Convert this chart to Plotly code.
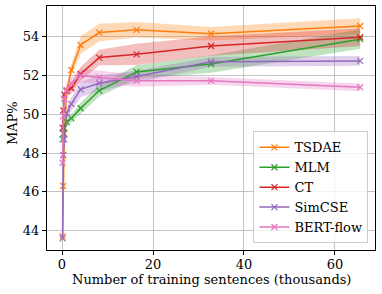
import plotly.graph_objects as go

x_thousands = [0.128, 0.256, 0.512, 1.024, 2.048, 4.096, 8.192, 16.384, 32.768, 65.536]

series_names = ["TSDAE", "MLM", "CT", "SimCSE", "BERT-flow"]
tsdae = [43.7, 46.3, 49.0, 51.2, 52.28, 53.57, 54.21, 54.35, 54.15, 54.55]
mlm = [48.7, 49.0, 49.3, 49.6, 49.79, 50.31, 51.22, 52.18, 52.59, 53.87]
ct = [49.3, 50.2, 51.0, 51.2, 51.34, 52.08, 52.92, 53.09, 53.52, 53.97]
simcse = [43.6, 47.9, 48.7, 50.05, 50.53, 51.28, 51.6, 51.94, 52.70, 52.75]
bertflow = [47.5, 49.9, 50.8, 51.25, 51.6, 52.0, 51.9, 51.72, 51.72, 51.39]

tsdae_std = [0.1, 0.1, 0.2, 0.3, 0.3, 0.45, 0.45, 0.4, 0.35, 0.4]
mlm_std = [0.1, 0.1, 0.15, 0.2, 0.2, 0.3, 0.3, 0.35, 0.45, 0.5]
ct_std = [0.1, 0.15, 0.2, 0.25, 0.3, 0.35, 0.4, 0.55, 0.5, 0.45]
simcse_std = [0.1, 0.15, 0.2, 0.3, 0.35, 0.4, 0.4, 0.3, 0.25, 0.25]
bertflow_std = [0.1, 0.2, 0.25, 0.3, 0.3, 0.35, 0.35, 0.3, 0.2, 0.2]

x_title = "Number of training sentences (thousands)"
y_title = "MAP%"

colors = ["#ff7f0e", "#2ca02c", "#d62728", "#9467bd", "#e377c2"]
fills = ["rgba(255,127,14,0.3)", "rgba(44,160,44,0.3)", "rgba(214,39,40,0.3)",
         "rgba(148,103,189,0.3)", "rgba(227,119,194,0.3)"]

means = [tsdae, mlm, ct, simcse, bertflow]
stds = [tsdae_std, mlm_std, ct_std, simcse_std, bertflow_std]

FONT = "DejaVu Serif"
fig = go.Figure()

for m, s, fc in zip(means, stds, fills):
    upper = [a + b for a, b in zip(m, s)]
    lower = [a - b for a, b in zip(m, s)]
    fig.add_trace(go.Scatter(
        x=x_thousands + x_thousands[::-1], y=upper + lower[::-1],
        fill="toself", fillcolor=fc, line=dict(width=0), mode="lines",
        hoverinfo="skip", showlegend=False))

for name, m, c in zip(series_names, means, colors):
    fig.add_trace(go.Scatter(
        x=x_thousands, y=m, name=name, mode="lines+markers",
        line=dict(color=c, width=1.5),
        marker=dict(symbol="x-thin", size=6, line=dict(color=c, width=1.2))))

fig.update_layout(
    width=382, height=294,
    margin=dict(l=47, r=7, t=6, b=44),
    paper_bgcolor="white", plot_bgcolor="white",
    font=dict(family=FONT, size=13, color="black"),
    legend=dict(x=0.98, y=0.027, xanchor="right", yanchor="bottom",
                bgcolor="rgba(255,255,255,0.8)", bordercolor="#cccccc", borderwidth=1,
                font=dict(family=FONT, size=13), tracegroupgap=0),
    annotations=[
        dict(text=x_title, xref="paper", yref="paper", x=0.5, y=-0.121,
             xanchor="center", yanchor="middle", showarrow=False,
             font=dict(family=FONT, size=13)),
        dict(text=y_title, xref="paper", yref="paper", x=-0.1067, y=0.52,
             xanchor="center", yanchor="middle", showarrow=False, textangle=-90,
             font=dict(family=FONT, size=13)),
    ],
)
fig.update_xaxes(
    range=[-3.3, 68.8], tickvals=[0, 20, 40, 60], showgrid=True, gridcolor="#c4c4c4",
    gridwidth=1, zeroline=False, showline=True, linecolor="black", linewidth=1.2,
    mirror=True, ticks="outside", ticklen=4, tickcolor="black", ticklabelstandoff=-2)
fig.update_yaxes(
    range=[43.0, 55.58], tickvals=[44, 46, 48, 50, 52, 54], showgrid=True, gridcolor="#c4c4c4",
    gridwidth=1, zeroline=False, showline=True, linecolor="black", linewidth=1.2,
    mirror=True, ticks="outside", ticklen=4, tickcolor="black")

fig.write_html("out.html", post_script="document.body.style.margin='0';",
               config={"displayModeBar": False})
